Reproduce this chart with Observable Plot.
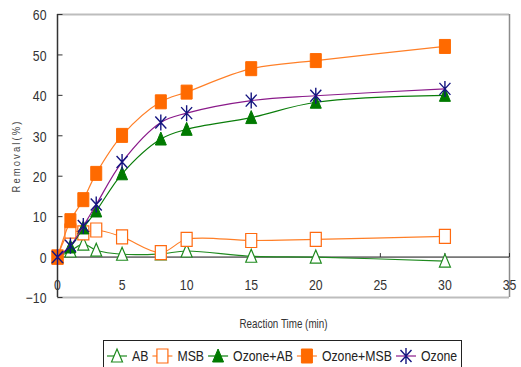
<!DOCTYPE html>
<html>
<head>
<meta charset="utf-8">
<script src="https://cdn.jsdelivr.net/npm/d3@7"></script>
<script src="https://cdn.jsdelivr.net/npm/@observablehq/plot@0.6"></script>
<style>
  body { margin: 0; background: #fff; font-family: "Liberation Sans", Arial, sans-serif; }
  #chart { position: relative; width: 521px; height: 367px; overflow: hidden; background: #fff; }
  #chart svg.plot { position: absolute; left: 0; top: 0; }
  #legend { position: absolute; left: 103px; top: 340px; width: 359px; height: 32px; box-sizing: border-box;
            border: 1px solid #222; }
  #legend svg { display: block; }
</style>
</head>
<body>
<div id="chart"><div id="legend"></div></div>
<script>
// Reaction time (min) and removal (%) for each treatment
const time = [0, 1, 2, 3, 5, 8, 10, 15, 20, 30];
const removalAB = [0, 1.5, 3.2, 1.7, 0.7, 0.8, 1.5, 0.2, 0, -1];
const removalMSB = [0, 6.4, 6.0, 6.7, 5.0, 1.1, 4.4, 4.1, 4.4, 5.1];
const removalOzoneAB = [0, 2.5, 7.2, 11.4, 20.6, 29.2, 31.6, 34.5, 38.3, 40.0];
const removalOzoneMSB = [0, 9.0, 14.2, 20.7, 30.1, 38.4, 40.8, 46.6, 48.6, 52.1];
const removalOzone = [0, 2.8, 7.7, 13.0, 23.5, 33.3, 35.6, 38.7, 39.9, 41.6];
const seriesNames = ["AB", "MSB", "Ozone+AB", "Ozone+MSB", "Ozone"];
const xTicks = [0, 5, 10, 15, 20, 25, 30, 35];
const yTicks = [-10, 0, 10, 20, 30, 40, 50, 60];
const xLabel = "Reaction Time (min)";
const yLabel = "Removal(%)";

const seriesValues = [removalAB, removalMSB, removalOzoneAB, removalOzoneMSB, removalOzone];

// Marker shapes
const triangle = { draw(c) { c.moveTo(0, -7); c.lineTo(5.5, 6); c.lineTo(-5.5, 6); c.closePath(); } };
const square = { draw(c) { c.rect(-5.5, -7, 11, 14); } };
const asterisk = { draw(c) {
  c.moveTo(0, -8); c.lineTo(0, 8);
  c.moveTo(-5.5, -6); c.lineTo(5.5, 6);
  c.moveTo(5.5, -6); c.lineTo(-5.5, 6);
} };
const tickRight = { draw(c) { c.moveTo(0, 0); c.lineTo(5, 0); } };
const tickUp = { draw(c) { c.moveTo(0, 0); c.lineTo(0, -4); } };

const styles = [
  { line: "#1f8a1f", stroke: "#1f8a1f", fill: "#fff", symbol: triangle, sw: 1.2 },
  { line: "#ff7f27", stroke: "#ff6a10", fill: "#fff", symbol: square, sw: 1.2 },
  { line: "#0a7d0a", stroke: "#007a00", fill: "#007a00", symbol: triangle, sw: 1 },
  { line: "#ff7f27", stroke: "#ff6a00", fill: "#ff6a00", symbol: square, sw: 1 },
  { line: "#8a1a8a", stroke: "#151580", fill: "none", symbol: asterisk, sw: 1.4 }
];

// Narrow lettering: squeeze each text horizontally around its own anchor
const NARROW = 0.82;
function condense(root) {
  root.querySelectorAll("text").forEach(t => {
    const tr = t.getAttribute("transform") || "";
    t.setAttribute("transform", `${tr} scale(${NARROW},1)`);
  });
}

const rows = seriesNames.map((name, s) => time.map((t, i) => ({ series: name, time: t, value: seriesValues[s][i] })));

const marks = [
  // plot-area frame
  Plot.ruleY([60], { stroke: "#bdbdbd", strokeWidth: 2 }),
  Plot.ruleY([-10], { stroke: "#bdbdbd", strokeWidth: 2 }),
  Plot.ruleX([35], { stroke: "#8c8c8c", strokeWidth: 1.5 }),
  Plot.ruleY([0], { stroke: "#111", strokeWidth: 1 }),
  Plot.ruleX([0], { stroke: "#333", strokeWidth: 1.5 }),
  // inward tick marks
  Plot.dot(yTicks, { x: () => 0, y: d => d, symbol: tickRight, stroke: "#333", strokeWidth: 1 }),
  Plot.dot(xTicks, { x: d => d, y: () => 0, symbol: tickUp, stroke: "#333", strokeWidth: 1 }),
  // tick labels
  Plot.text(yTicks, { y: d => d, frameAnchor: "left", textAnchor: "end", dx: -11, dy: 1, text: d => String(d).replace("-", "\u2212"), fontSize: 15, fill: "#333" }),
  Plot.text(xTicks, { x: d => d, frameAnchor: "bottom", dy: -12, lineAnchor: "middle", text: d => String(d), fontSize: 15, fill: "#333" }),
  // axis titles
  Plot.text([xLabel], { frameAnchor: "bottom", dy: 27, lineAnchor: "middle", text: d => d, fontSize: 12, fill: "#333" }),
  Plot.text([yLabel], { frameAnchor: "left", textAnchor: "middle", dx: -41, rotate: -90, text: d => d, fontSize: 11.5, fill: "#444" })
];

rows.forEach((data, s) => {
  const st = styles[s];
  marks.push(Plot.line(data, { x: "time", y: "value", stroke: st.line, strokeWidth: 1.2, curve: "catmull-rom" }));
  marks.push(Plot.dot(data, { x: "time", y: "value", symbol: st.symbol, stroke: st.stroke, fill: st.fill, strokeWidth: st.sw }));
});

const chart = Plot.plot({
  width: 521,
  height: 335,
  marginLeft: 57,
  marginRight: 12,
  marginTop: 14,
  marginBottom: 38,
  x: { domain: [0, 35], axis: null },
  y: { domain: [-10, 60], axis: null },
  style: { fontFamily: "'Liberation Sans', Arial, sans-serif", background: "transparent", overflow: "visible" },
  marks
});
chart.classList.add("plot");
document.getElementById("chart").prepend(chart);

// spaced lettering for the vertical title
chart.querySelectorAll("text").forEach(t => { if (t.textContent === yLabel) t.setAttribute("letter-spacing", "2.6px"); });
condense(chart);

// legend built from the same series definitions
const legendSvg = d3.select("#legend").append("svg")
  .attr("width", 357).attr("height", 30)
  .style("font-family", "'Liberation Sans', Arial, sans-serif").style("font-size", "15px");
let cursor = 3;
seriesNames.forEach((name, s) => {
  const st = styles[s];
  const g = legendSvg.append("g").attr("transform", `translate(${cursor},15)`);
  g.append("line").attr("x1", 0).attr("x2", 20).attr("stroke", st.line).attr("stroke-width", 1.2);
  const p = d3.path();
  st.symbol.draw(p);
  g.append("path").attr("transform", "translate(10,0)").attr("d", p.toString())
    .attr("fill", st.fill).attr("stroke", st.stroke).attr("stroke-width", st.sw);
  const label = g.append("text").attr("transform", "translate(25,0)").attr("dy", "0.35em").attr("fill", "#222").text(name);
  const w = label.node().getComputedTextLength() * NARROW;
  cursor += 25 + w + 4;
});
condense(legendSvg.node());
</script>
</body>
</html>
